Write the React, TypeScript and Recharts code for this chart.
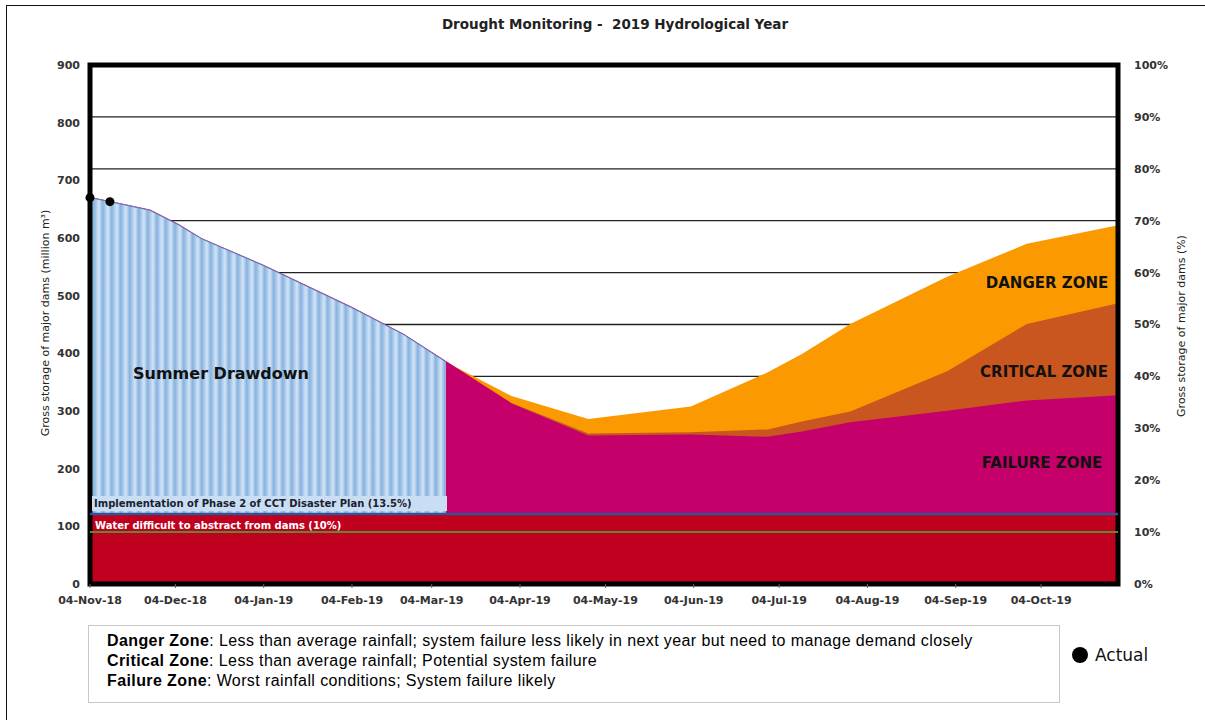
import {
  ComposedChart,
  Area,
  Line,
  Scatter,
  XAxis,
  YAxis,
  CartesianGrid,
  ReferenceArea,
} from "recharts";

// days since 04-Nov-18
const days = [0, 7, 21, 31, 39, 61, 92, 110, 125, 148, 175, 211, 238, 250, 267, 301, 329, 361];
// top of each zone, million m³
const drawdown = [670, 663, 648, 623, 599, 552, 479, 433, 385, null, null, null, null, null, null, null, null, null];
const failure = [670, 663, 648, 623, 599, 552, 479, 433, 385, 312, 256, 258, 254, 263, 279, 299, 317, 326];
const critical = [670, 663, 648, 623, 599, 552, 479, 433, 385, 314, 261, 263, 268, 282, 299, 369, 451, 487];
const danger = [670, 663, 648, 623, 599, 552, 479, 433, 385, 326, 286, 308, 367, 399, 451, 533, 590, 622];

const actualDays = [0, 7];
const actualValues = [670, 663];

const tickDays = [0, 30, 61, 92, 120, 151, 181, 212, 242, 273, 304, 334];
const tickLabels = [
  "04-Nov-18", "04-Dec-18", "04-Jan-19", "04-Feb-19", "04-Mar-19", "04-Apr-19",
  "04-May-19", "04-Jun-19", "04-Jul-19", "04-Aug-19", "04-Sep-19", "04-Oct-19",
];
const mcmTicks = [0, 100, 200, 300, 400, 500, 600, 700, 800, 900];
const pctTicks = [0, 10, 20, 30, 40, 50, 60, 70, 80, 90, 100];

// thresholds, % of storage
const DIFFICULT = 10;
const PHASE2 = 13.5;
const FULL_MCM = 900;
const LAST_DAY = 361;

const phase2Mcm = (PHASE2 / 100) * FULL_MCM;

const rows = days.map((day, i) => ({
  day,
  failure: failure[i],
  critical: critical[i],
  danger: danger[i],
  drawdown: drawdown[i] == null ? null : [phase2Mcm, drawdown[i]],
  phase2: PHASE2,
  difficult: DIFFICULT,
}));
const actual = actualDays.map((day, i) => ({ day, actual: actualValues[i] }));

const geo = "'DejaVu Sans', sans-serif";
const tickStyle = { fontFamily: geo, fontSize: 11, fontWeight: 700, fill: "#333" };

const abs = (s: React.CSSProperties): React.CSSProperties => ({ position: "absolute", ...s });

export default function App() {
  return (
    <div style={abs({ left: 0, top: 0, width: 1205, height: 720, overflow: "hidden", background: "#fff" })}>
      <div style={abs({ left: 6, top: 5, width: 1220, height: 800, border: "1.5px solid #111" })} />
      <div style={abs({ left: 0, top: 0 })}>
        <ComposedChart
          width={1205}
          height={720}
          data={rows}
          margin={{ top: 65, right: 40, bottom: 106, left: 50 }}
        >
          <defs>
            <linearGradient id="stripeGrad" x1="0" y1="0" x2="1" y2="0">
              <stop offset="0%" stopColor="#d3e4f5" />
              <stop offset="40%" stopColor="#88b3df" />
              <stop offset="65%" stopColor="#a4c6e9" />
              <stop offset="100%" stopColor="#d6e6f6" />
            </linearGradient>
            <pattern id="stripes" patternUnits="userSpaceOnUse" width="9" height="10">
              <rect x="0" y="0" width="9" height="10" fill="url(#stripeGrad)" />
            </pattern>
          </defs>
          <CartesianGrid yAxisId="pct" vertical={false} stroke="#222" strokeWidth={1.3} />
          <XAxis
            type="number"
            dataKey="day"
            domain={[0, LAST_DAY]}
            ticks={tickDays}
            tickFormatter={(v: number) => tickLabels[tickDays.indexOf(v)]}
            axisLine={false}
            tickLine={{ stroke: "#666" }}
            tickSize={4}
            tickMargin={8}
            height={30}
            tick={tickStyle}
            interval={0}
          />
          <YAxis
            yAxisId="mcm"
            domain={[0, FULL_MCM]}
            ticks={mcmTicks}
            axisLine={false}
            tickLine={false}
            tickMargin={4}
            width={40}
            tick={tickStyle}
            interval={0}
          />
          <YAxis
            yAxisId="pct"
            orientation="right"
            domain={[0, 100]}
            ticks={pctTicks}
            tickFormatter={(v: number) => `${v}%`}
            axisLine={false}
            tickLine={false}
            tickMargin={10}
            width={47}
            tick={tickStyle}
            interval={0}
          />
          <Area yAxisId="mcm" type="linear" dataKey="danger" fill="#fb9a00" fillOpacity={1} stroke="none" isAnimationActive={false} />
          <Area yAxisId="mcm" type="linear" dataKey="critical" fill="#c8561e" fillOpacity={1} stroke="none" isAnimationActive={false} />
          <Area yAxisId="mcm" type="linear" dataKey="failure" fill="#c6006a" fillOpacity={1} stroke="#c6006a" strokeWidth={1.5} isAnimationActive={false} />
          <Area yAxisId="pct" type="linear" dataKey="phase2" fill="#c0001f" fillOpacity={1} stroke="none" isAnimationActive={false} />
          <Area
            yAxisId="mcm"
            type="linear"
            dataKey="drawdown"
            fill="url(#stripes)"
            fillOpacity={1}
            stroke="#5b89c0"
            strokeWidth={1}
            isAnimationActive={false}
          />
          <Line yAxisId="pct" type="linear" dataKey="difficult" stroke="#5d8a2e" strokeWidth={2} dot={false} activeDot={false} isAnimationActive={false} />
          <Line yAxisId="pct" type="linear" dataKey="phase2" stroke="#2f5597" strokeWidth={2.5} dot={false} activeDot={false} isAnimationActive={false} />
          <Scatter yAxisId="mcm" data={actual} dataKey="actual" fill="#000" shape="circle" isAnimationActive={false} />
          <ReferenceArea
            yAxisId="mcm"
            x1={0}
            x2={LAST_DAY}
            y1={0}
            y2={FULL_MCM}
            fill="none"
            fillOpacity={0}
            stroke="#000"
            strokeWidth={5}
          />
        </ComposedChart>
      </div>

      <div style={abs({ left: 0, width: 1230, top: 16, textAlign: "center", fontFamily: geo, fontWeight: 700, fontSize: 13.5, color: "#222", whiteSpace: "pre" })}>
        {"Drought Monitoring -  2019 Hydrological Year"}
      </div>

      <div style={abs({ left: 45, top: 323, transform: "translate(-50%,-50%) rotate(-90deg)", whiteSpace: "nowrap", fontFamily: geo, fontSize: 11, color: "#222" })}>
        Gross storage of major dams (million m³)
      </div>
      <div style={abs({ left: 1181, top: 326, transform: "translate(-50%,-50%) rotate(-90deg)", whiteSpace: "nowrap", fontFamily: geo, fontSize: 11, color: "#222" })}>
        Gross storage of major dams (%)
      </div>

      <div style={abs({ left: 221, top: 373, transform: "translate(-50%,-50%)", whiteSpace: "nowrap", fontFamily: geo, fontWeight: 700, fontSize: 16, color: "#111" })}>
        Summer Drawdown
      </div>
      <div style={abs({ left: 1047, top: 283, transform: "translate(-50%,-50%)", whiteSpace: "nowrap", fontFamily: geo, fontWeight: 700, fontSize: 15, color: "#111" })}>
        DANGER ZONE
      </div>
      <div style={abs({ left: 1044, top: 372, transform: "translate(-50%,-50%)", whiteSpace: "nowrap", fontFamily: geo, fontWeight: 700, fontSize: 15, color: "#111" })}>
        CRITICAL ZONE
      </div>
      <div style={abs({ left: 1042, top: 463, transform: "translate(-50%,-50%)", whiteSpace: "nowrap", fontFamily: geo, fontWeight: 700, fontSize: 15, color: "#111" })}>
        FAILURE ZONE
      </div>
      <div style={abs({ left: 92, top: 496, width: 353, height: 15, background: "#c9def2", whiteSpace: "nowrap", fontFamily: geo, fontWeight: 700, fontSize: 10, lineHeight: "15px", color: "#1a2030", paddingLeft: 2 })}>
        Implementation of Phase 2 of CCT Disaster Plan (13.5%)
      </div>
      <div style={abs({ left: 95, top: 519, whiteSpace: "nowrap", fontFamily: geo, fontWeight: 700, fontSize: 10, lineHeight: "14px", color: "#fff" })}>
        Water difficult to abstract from dams (10%)
      </div>

      <div style={abs({ left: 88, top: 625, width: 952, height: 58, border: "1px solid #c8c8c8", padding: "5px 0 13px 18px", fontFamily: "'Liberation Sans', Arial, sans-serif", fontSize: 16, letterSpacing: 0.4, lineHeight: "20px", color: "#000", whiteSpace: "nowrap" })}>
        <div><b>Danger Zone</b>: Less than average rainfall; system failure less likely in next year but need to manage demand closely</div>
        <div><b>Critical Zone</b>: Less than average rainfall; Potential system failure</div>
        <div><b>Failure Zone</b>: Worst rainfall conditions; System failure likely</div>
      </div>
      <div style={abs({ left: 1072, top: 647, width: 16, height: 16, borderRadius: "50%", background: "#000" })} />
      <div style={abs({ left: 1095, top: 644, fontFamily: geo, fontSize: 17, lineHeight: "22px", color: "#111" })}>Actual</div>
    </div>
  );
}
